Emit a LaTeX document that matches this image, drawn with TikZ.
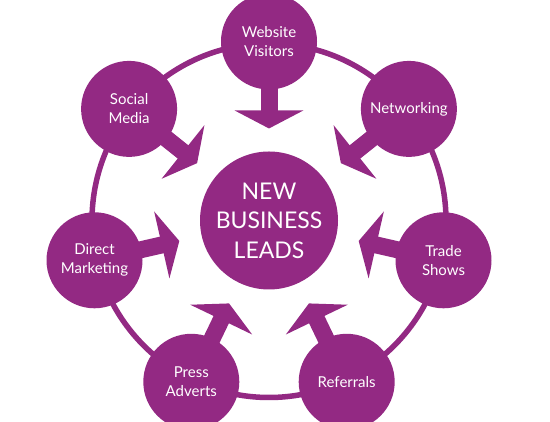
\documentclass[tikz,border=0pt]{standalone}
\usepackage{fontspec}
\setmainfont{Lato}
\usetikzlibrary{arrows.meta,calc,backgrounds}
\definecolor{leadpurple}{RGB}{147,41,131}
\begin{document}
\begin{tikzpicture}[x=1pt, y=1pt,
  sat/.style={shape=circle, fill=leadpurple, text=white, inner sep=0pt, minimum size=96pt,
    align=center, font=\fontsize{15}{19}\selectfont},
  hub/.style={shape=circle, fill=leadpurple, text=white, inner sep=0pt, minimum size=138pt,
    align=center, font=\fontsize{23}{29.5}\selectfont},
  feed/.style={draw=leadpurple, line width=17pt, -{Triangle[width=68pt,length=18pt]}},
  ring/.style={draw=leadpurple, line width=5.5pt}]
  \useasboundingbox (0,0) rectangle (550,422);
  \clip (0,0) rectangle (550,422);
  \node [hub] (leads) at (269,201.5) {NEW\\BUSINESS\\LEADS};
  % the seven sources
  \node [sat] (web) at (269,380.5) {Website\\Visitors};
  \node [sat] (net) at (408.9,313.1) {Networking};
  \node [sat] (trade) at (443.5,161.7) {Trade\\Shows};
  \node [sat] (ref) at (346.7,40.2) {Referrals};
  \node [sat] (press) at (191.3,40.2) {Press\\Adverts};
  \node [sat] (direct) at (94.5,161.7) {Direct\\Marketing};
  \node [sat] (social) at (129.1,313.1) {Social\\Media};
  \begin{scope}[on background layer]
    \draw [ring] (leads.center) circle (177pt);
    \draw [feed] (web.center) -- ($(web)!87pt!(leads)$);
    \draw [feed] (net.center) -- ($(net)!87pt!(leads)$);
    \draw [feed] (trade.center) -- ($(trade)!87pt!(leads)$);
    \draw [feed] (ref.center) -- ($(ref)!87pt!(leads)$);
    \draw [feed] (press.center) -- ($(press)!87pt!(leads)$);
    \draw [feed] (direct.center) -- ($(direct)!87pt!(leads)$);
    \draw [feed] (social.center) -- ($(social)!87pt!(leads)$);
  \end{scope}
\end{tikzpicture}
\end{document}
